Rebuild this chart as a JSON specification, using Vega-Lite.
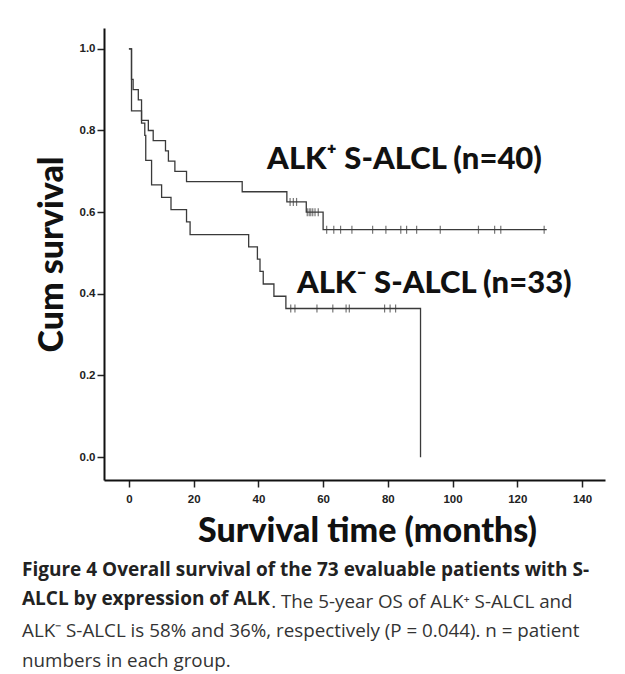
{
  "$schema": "https://vega.github.io/schema/vega-lite/v6.json",
  "width": 501,
  "height": 452,
  "autosize": {"type": "none"},
  "padding": {"left": 104, "top": 28, "right": 20, "bottom": 194},
  "background": "white",
  "config": {"view": {"stroke": null}, "axis": {"grid": false}},
  "title": {
    "text": ["Figure 4 Overall survival of the 73 evaluable patients with S-", "ALCL by expression of ALK"],
    "subtitle": ["\u200B\u2003\u2003\u2003\u2003\u2003\u2003\u2003\u2003\u2003\u2003\u2003\u2003\u2003\u2009\u200A. The 5-year OS of ALK\u207A S-ALCL and", "ALK\u207B S-ALCL is 58% and 36%, respectively (P = 0.044). n = patient", "numbers in each group."],
    "orient": "bottom",
    "anchor": "start",
    "frame": "group",
    "dx": -82,
    "offset": 12,
    "font": "Open Sans",
    "fontSize": 19,
    "fontWeight": "bold",
    "color": "#222222",
    "lineHeight": 29.5,
    "subtitleFont": "Open Sans",
    "subtitleFontSize": 18.8,
    "subtitleFontWeight": "normal",
    "subtitleColor": "#333333",
    "subtitleLineHeight": 29.5,
    "subtitlePadding": -16.5
  },
  "datasets": {
    "curves": [
      {"group": "ALK+", "time": 0, "surv": 1.0},
      {"group": "ALK+", "time": 0.8, "surv": 0.925},
      {"group": "ALK+", "time": 1.3, "surv": 0.9},
      {"group": "ALK+", "time": 2.9, "surv": 0.875},
      {"group": "ALK+", "time": 3.9, "surv": 0.825},
      {"group": "ALK+", "time": 6.0, "surv": 0.8},
      {"group": "ALK+", "time": 7.5, "surv": 0.775},
      {"group": "ALK+", "time": 11.3, "surv": 0.75},
      {"group": "ALK+", "time": 12.2, "surv": 0.725},
      {"group": "ALK+", "time": 14.2, "surv": 0.7},
      {"group": "ALK+", "time": 17.8, "surv": 0.675},
      {"group": "ALK+", "time": 35.0, "surv": 0.65},
      {"group": "ALK+", "time": 48.8, "surv": 0.625},
      {"group": "ALK+", "time": 54.8, "surv": 0.6},
      {"group": "ALK+", "time": 60.0, "surv": 0.557},
      {"group": "ALK+", "time": 129.1, "surv": 0.557},
      {"group": "ALK-", "time": 0, "surv": 1.0},
      {"group": "ALK-", "time": 0.8, "surv": 0.848},
      {"group": "ALK-", "time": 3.9, "surv": 0.818},
      {"group": "ALK-", "time": 4.9, "surv": 0.788},
      {"group": "ALK-", "time": 5.2, "surv": 0.727},
      {"group": "ALK-", "time": 7.0, "surv": 0.667},
      {"group": "ALK-", "time": 10.1, "surv": 0.636},
      {"group": "ALK-", "time": 13.0, "surv": 0.606},
      {"group": "ALK-", "time": 17.8, "surv": 0.576},
      {"group": "ALK-", "time": 18.9, "surv": 0.545},
      {"group": "ALK-", "time": 37.0, "surv": 0.515},
      {"group": "ALK-", "time": 39.7, "surv": 0.485},
      {"group": "ALK-", "time": 40.5, "surv": 0.455},
      {"group": "ALK-", "time": 41.5, "surv": 0.424},
      {"group": "ALK-", "time": 44.8, "surv": 0.394},
      {"group": "ALK-", "time": 48.5, "surv": 0.364},
      {"group": "ALK-", "time": 90.1, "surv": 0.0}
    ],
    "censored": [
      {"group": "ALK+", "time": 49.8, "surv": 0.625},
      {"group": "ALK+", "time": 50.8, "surv": 0.625},
      {"group": "ALK+", "time": 51.8, "surv": 0.625},
      {"group": "ALK+", "time": 55.1, "surv": 0.6},
      {"group": "ALK+", "time": 55.7, "surv": 0.6},
      {"group": "ALK+", "time": 56.2, "surv": 0.6},
      {"group": "ALK+", "time": 56.8, "surv": 0.6},
      {"group": "ALK+", "time": 57.5, "surv": 0.6},
      {"group": "ALK+", "time": 58.5, "surv": 0.6},
      {"group": "ALK+", "time": 61.1, "surv": 0.557},
      {"group": "ALK+", "time": 63.3, "surv": 0.557},
      {"group": "ALK+", "time": 65.4, "surv": 0.557},
      {"group": "ALK+", "time": 68.9, "surv": 0.557},
      {"group": "ALK+", "time": 75.3, "surv": 0.557},
      {"group": "ALK+", "time": 79.4, "surv": 0.557},
      {"group": "ALK+", "time": 84.0, "surv": 0.557},
      {"group": "ALK+", "time": 85.8, "surv": 0.557},
      {"group": "ALK+", "time": 88.9, "surv": 0.557},
      {"group": "ALK+", "time": 96.2, "surv": 0.557},
      {"group": "ALK+", "time": 108.0, "surv": 0.557},
      {"group": "ALK+", "time": 113.0, "surv": 0.557},
      {"group": "ALK+", "time": 114.9, "surv": 0.557},
      {"group": "ALK+", "time": 128.3, "surv": 0.557},
      {"group": "ALK-", "time": 50.0, "surv": 0.364},
      {"group": "ALK-", "time": 51.3, "surv": 0.364},
      {"group": "ALK-", "time": 58.1, "surv": 0.364},
      {"group": "ALK-", "time": 63.0, "surv": 0.364},
      {"group": "ALK-", "time": 67.1, "surv": 0.364},
      {"group": "ALK-", "time": 68.1, "surv": 0.364},
      {"group": "ALK-", "time": 79.0, "surv": 0.364},
      {"group": "ALK-", "time": 80.7, "surv": 0.364},
      {"group": "ALK-", "time": 82.4, "surv": 0.364}
    ],
    "labels": [
      {"group": "ALK+", "label": "ALK\u207A S-ALCL (n=40)", "time": 42.7, "surv": 0.727},
      {"group": "ALK-", "label": "ALK\u207B S-ALCL (n=33)", "time": 51.9, "surv": 0.424}
    ]
  },
  "layer": [
    {
      "data": {"name": "curves"},
      "mark": {"type": "line", "interpolate": "step-after", "color": "#3a3a3a", "strokeWidth": 1.3},
      "encoding": {
        "x": {
          "field": "time", "type": "quantitative",
          "scale": {"domain": [-7.7, 147.1], "nice": false, "zero": false},
          "axis": {
            "values": [0, 20, 40, 60, 80, 100, 120, 140],
            "title": "Survival time (months)",
            "titleFont": "Lato", "titleFontSize": 34, "titleFontWeight": 900, "titleColor": "#111111",
            "titlePadding": 10, "titleX": 263,
            "labelFont": "Liberation Sans", "labelFontSize": 11.5, "labelFontWeight": "bold", "labelColor": "#222222",
            "labelPadding": 6,
            "tickSize": 7, "tickWidth": 1.5, "tickColor": "#222222",
            "domainWidth": 2, "domainColor": "#111111"
          }
        },
        "y": {
          "field": "surv", "type": "quantitative",
          "scale": {"domain": [-0.056, 1.051], "nice": false, "zero": false},
          "axis": {
            "values": [0, 0.2, 0.4, 0.6, 0.8, 1.0],
            "format": ".1f",
            "title": "Cum survival",
            "titleFont": "Lato", "titleFontSize": 34, "titleFontWeight": 900, "titleColor": "#111111",
            "titlePadding": 10,
            "labelFont": "Liberation Sans", "labelFontSize": 11.5, "labelFontWeight": "bold", "labelColor": "#222222",
            "labelPadding": 2,
            "tickSize": 7, "tickWidth": 1.5, "tickColor": "#222222",
            "domainWidth": 2, "domainColor": "#111111"
          }
        },
        "detail": {"field": "group"}
      }
    },
    {
      "data": {"name": "censored"},
      "mark": {"type": "tick", "orient": "vertical", "size": 8, "thickness": 1.2, "color": "#3a3a3a"},
      "encoding": {
        "x": {"field": "time", "type": "quantitative"},
        "y": {"field": "surv", "type": "quantitative"}
      }
    },
    {
      "data": {"name": "labels"},
      "mark": {"type": "text", "align": "left", "baseline": "middle", "font": "Lato", "fontSize": 31, "fontWeight": 900, "color": "#111111"},
      "encoding": {
        "x": {"field": "time", "type": "quantitative"},
        "y": {"field": "surv", "type": "quantitative"},
        "text": {"field": "label"}
      }
    }
  ]
}
